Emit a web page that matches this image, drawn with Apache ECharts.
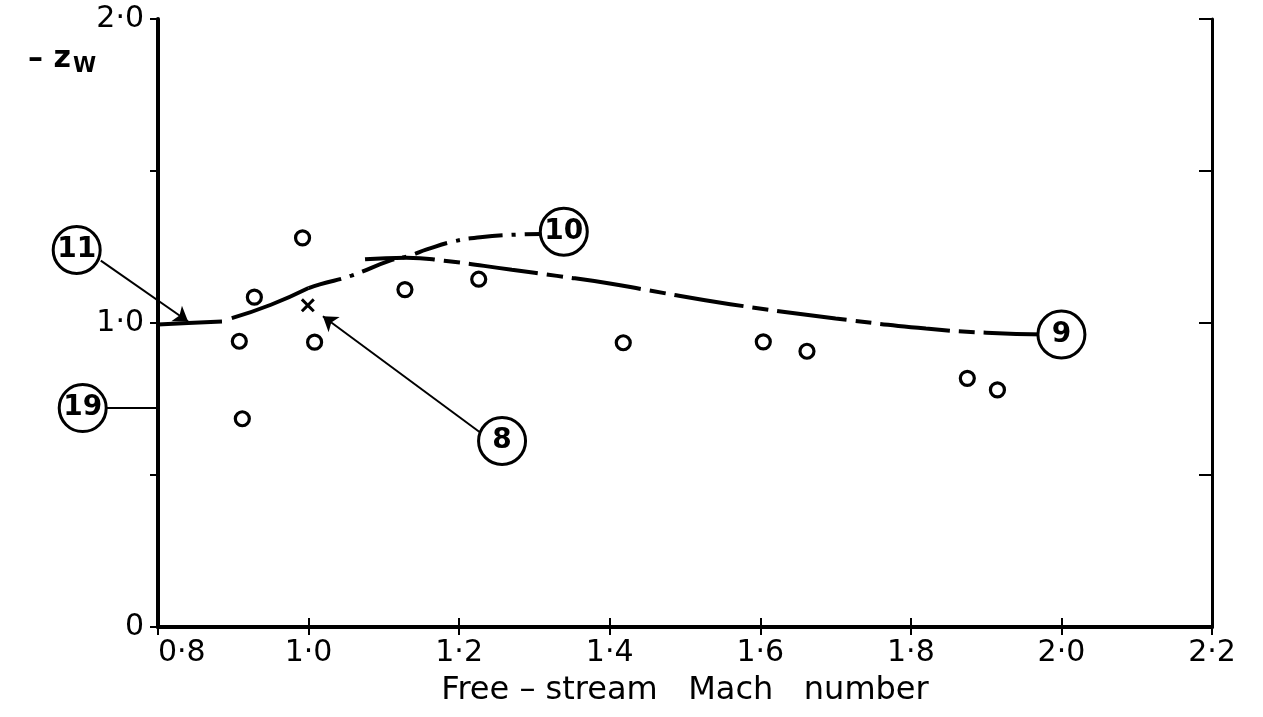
<!DOCTYPE html>
<html><head><meta charset="utf-8">
<script src="https://cdn.jsdelivr.net/npm/echarts@6/dist/echarts.min.js"></script>
<style>html,body{margin:0;padding:0;background:#fff}#c{width:1263px;height:717px}</style>
</head><body><div id="c"></div>
<script>
// ---- data ----
const xTickLabels = ['0·8','1·0','1·2','1·4','1·6','1·8','2·0','2·2'];
const yTickLabels = ['0','','1·0','','2·0'];
const openCircles = [[0.908,0.94],[0.912,0.685],[0.928,1.085],[0.992,1.28],[1.008,0.937],
  [1.128,1.11],[1.226,1.144],[1.418,0.935],[1.604,0.938],[1.662,0.907],[1.875,0.818],[1.915,0.78]];
const crossPoints = [[0.999,1.058]];
const curve11a = [[0.8,0.995],[0.84,1.0],[0.885,1.005]];
const curve11b = [[0.898,1.016],[0.95,1.06],[1.0,1.115]];
const curve10 = [[1.0,1.115],[1.015,1.127],[1.057,1.156],[1.108,1.205],[1.135,1.222],[1.157,1.242],
  [1.192,1.268],[1.228,1.282],[1.27,1.29],[1.31,1.293]];
const curve9 = [[1.075,1.21],[1.13,1.215],[1.18,1.205],[1.27,1.175],[1.33,1.155],[1.40,1.13],
  [1.45,1.108],[1.56,1.062],[1.70,1.015],[1.82,0.982],[1.90,0.968],[1.98,0.962]];
const tagLabels = ['11','19','8','10','9'];
const tagPositions = [[0.692,1.24],[0.70,0.72],[1.257,0.612],[1.339,1.30],[2.0,0.962]];
const leaderStarts = [[0.724,1.205],[0.732,0.72],[1.228,0.64]];
const leaderEnds = [[0.84,1.005],[0.8,0.72],[1.019,1.022]];
const leaderArrow = [true,false,true];
const xTitle = 'Free – stream   Mach   number';

// ---- chart ----
const FONT = 'DejaVu Sans';
const chart = echarts.init(document.getElementById('c'), null, {renderer:'canvas'});
const xBase = {type:'value', min:0.8, max:2.2, interval:0.2, splitLine:{show:false}};
const yBase = {type:'value', min:0, max:2, interval:0.5, splitLine:{show:false}};
const leaderData = leaderStarts.map((s,i)=>({
  coords:[s, leaderEnds[i]],
  symbol:['none', leaderArrow[i] ? 'arrow' : 'none']
}));
chart.setOption({
  animation:false,
  backgroundColor:'#fff',
  grid:{left:158, right:51, top:19, bottom:90, containLabel:false},
  xAxis:[
    Object.assign({}, xBase, {position:'bottom',
      axisLine:{lineStyle:{color:'#000', width:4}},
      axisTick:{inside:true, length:9, lineStyle:{color:'#000', width:2}},
      axisLabel:{color:'#000', fontFamily:FONT, fontSize:30, margin:11, alignMinLabel:'left',
        formatter:v=>xTickLabels[Math.round((v-0.8)/0.2)]},
      name:xTitle, nameLocation:'middle', nameGap:48,
      nameTextStyle:{color:'#000', fontFamily:FONT, fontSize:32}}),
    Object.assign({}, xBase, {position:'top',
      axisLine:{lineStyle:{color:'#000', width:3}},
      axisTick:{inside:true, length:8, lineStyle:{color:'#000', width:2}},
      axisLabel:{show:false}})
  ],
  yAxis:[
    Object.assign({}, yBase, {position:'left',
      axisLine:{lineStyle:{color:'#000', width:4}},
      axisTick:{inside:false, length:8, lineStyle:{color:'#000', width:2}},
      axisLabel:{color:'#000', fontFamily:FONT, fontSize:30, margin:14,
        formatter:v=>yTickLabels[Math.round(v/0.5)]}}),
    Object.assign({}, yBase, {position:'right',
      axisLine:{lineStyle:{color:'#000', width:3}},
      axisTick:{inside:true, length:13, lineStyle:{color:'#000', width:2}},
      axisLabel:{show:false}})
  ],
  graphic:[{type:'text', left:28, top:44, z:10,
    style:{text:'{a|– z}{b|W}', rich:{
      a:{fontFamily:FONT, fontSize:30, fill:'#000', fontWeight:'bold'},
      b:{fontFamily:FONT, fontSize:21, fill:'#000', fontWeight:'bold', padding:[16,0,0,2]}}}}],
  series:[
    {type:'line', data:curve11a, smooth:true, showSymbol:false, lineStyle:{color:'#000', width:4}},
    {type:'line', data:curve11b, smooth:true, showSymbol:false, lineStyle:{color:'#000', width:4}},
    {type:'line', data:curve10, smooth:true, showSymbol:false, lineStyle:{color:'#000', width:4, type:[34,9,4,9]}},
    {type:'line', data:curve9, smooth:true, showSymbol:false, lineStyle:{color:'#000', width:4, type:[70,9,16,9]}},
    {type:'scatter', data:openCircles, symbol:'circle', symbolSize:14,
      itemStyle:{color:'#fff', borderColor:'#000', borderWidth:3.2, opacity:1}},
    {type:'scatter', data:crossPoints, symbolSize:14,
      symbol:'path://M0,1.5L1.5,0L5,3.5L8.5,0L10,1.5L6.5,5L10,8.5L8.5,10L5,6.5L1.5,10L0,8.5L3.5,5Z',
      itemStyle:{color:'#000', opacity:1}},
    {type:'lines', coordinateSystem:'cartesian2d', clip:false, silent:true, z:3,
      symbolSize:[1,14], lineStyle:{color:'#000', width:2, opacity:1},
      data:leaderData},
    {type:'scatter', clip:false, z:5, data:tagPositions.map((p,i)=>({value:p, label:{formatter:tagLabels[i]}})),
      symbol:'circle', symbolSize:47,
      itemStyle:{color:'#fff', borderColor:'#000', borderWidth:3, opacity:1},
      label:{show:true, position:'inside', color:'#000', fontFamily:FONT, fontSize:28, fontWeight:'bold'}}
  ]
});
</script></body></html>
